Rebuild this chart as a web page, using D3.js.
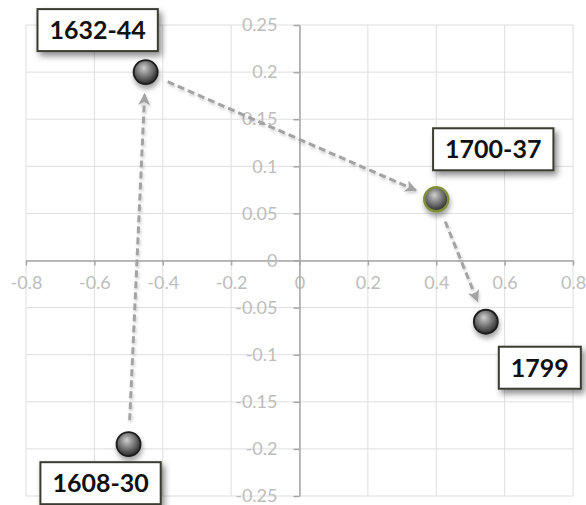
<!DOCTYPE html>
<html>
<head>
<meta charset="utf-8">
<script src="https://cdn.jsdelivr.net/npm/d3@7"></script>
<style>
  html, body { margin: 0; padding: 0; background: #fff; }
  svg { display: block; }
</style>
</head>
<body>
<svg id="chart" width="586" height="505"></svg>
<script>
// Periods and their positions on the two factor axes
const periods = ["1608-30", "1632-44", "1700-37", "1799"];
const xValues = [-0.5, -0.45, 0.4, 0.545];
const yValues = [-0.195, 0.2, 0.065, -0.065];

// Axis ticks
const xTicks = [-0.8, -0.6, -0.4, -0.2, 0, 0.2, 0.4, 0.6, 0.8];
const yTicks = [-0.25, -0.2, -0.15, -0.1, -0.05, 0, 0.05, 0.1, 0.15, 0.2, 0.25];

// Sequence of arrows (index pairs into periods)
const arrowFrom = [0, 1, 2];
const arrowTo   = [1, 2, 3];

const svg = d3.select("#chart");

const x = d3.scaleLinear().domain([-0.8, 0.8]).range([26, 573]);
const y = d3.scaleLinear().domain([-0.25, 0.25]).range([496, 25]);

const fmt = v => String(+v.toFixed(2));

// ---- defs: gradients, shadows, arrowheads ----
const defs = svg.append("defs");

const grad = defs.append("radialGradient")
  .attr("id", "sphere").attr("cx", "45%").attr("cy", "40%").attr("r", "60%")
  .attr("fx", "42%").attr("fy", "32%");
grad.append("stop").attr("offset", "0%").attr("stop-color", "#cfcfcf");
grad.append("stop").attr("offset", "50%").attr("stop-color", "#7d7d7d");
grad.append("stop").attr("offset", "100%").attr("stop-color", "#2a2a2a");

const boxShadow = defs.append("filter").attr("id", "boxShadow")
  .attr("x", "-20%").attr("y", "-20%").attr("width", "150%").attr("height", "160%");
boxShadow.append("feDropShadow").attr("dx", 3).attr("dy", 4)
  .attr("stdDeviation", 3).attr("flood-color", "#000").attr("flood-opacity", 0.45);

const dotShadow = defs.append("filter").attr("id", "dotShadow")
  .attr("x", "-50%").attr("y", "-50%").attr("width", "200%").attr("height", "200%");
dotShadow.append("feDropShadow").attr("dx", 1).attr("dy", 4)
  .attr("stdDeviation", 2.5).attr("flood-color", "#000").attr("flood-opacity", 0.35);

const lineShadow = defs.append("filter").attr("id", "lineShadow")
  .attr("x", "-20%").attr("y", "-20%").attr("width", "140%").attr("height", "140%");
lineShadow.append("feDropShadow").attr("dx", 1).attr("dy", 2)
  .attr("stdDeviation", 1.5).attr("flood-color", "#000").attr("flood-opacity", 0.2);

defs.append("marker")
  .attr("id", "head")
  .attr("viewBox", "0 0 12 12")
  .attr("refX", 11).attr("refY", 6)
  .attr("markerWidth", 13).attr("markerHeight", 12)
  .attr("markerUnits", "userSpaceOnUse")
  .attr("orient", "auto")
  .append("path")
  .attr("d", "M0,0 L12,6 L0,12 L3,6 Z")
  .attr("fill", "#a3a3a3");

// ---- grid ----
const grid = svg.append("g").attr("class", "grid");
grid.selectAll("line.v").data(xTicks).join("line")
  .attr("class", "v")
  .attr("x1", d => x(d)).attr("x2", d => x(d))
  .attr("y1", y(0.25)).attr("y2", y(-0.25))
  .attr("stroke", "#dedede").attr("stroke-width", 1);
grid.selectAll("line.h").data(yTicks).join("line")
  .attr("class", "h")
  .attr("y1", d => y(d)).attr("y2", d => y(d))
  .attr("x1", x(-0.8)).attr("x2", x(0.8))
  .attr("stroke", "#dedede").attr("stroke-width", 1);

// ---- axes crossing at the origin ----
const xAxis = d3.axisBottom(x).tickValues(xTicks).tickFormat(fmt)
  .tickSizeInner(5).tickSizeOuter(0).tickPadding(11);
const yAxis = d3.axisLeft(y).tickValues(yTicks).tickFormat(fmt)
  .tickSizeInner(6).tickSizeOuter(0).tickPadding(16);

const gx = svg.append("g").attr("transform", `translate(0,${y(0)})`).call(xAxis);
const gy = svg.append("g").attr("transform", `translate(${x(0)},0)`).call(yAxis);

[gx, gy].forEach(g => {
  g.select(".domain").attr("stroke", "#a6a6a6").attr("stroke-width", 1.5);
  g.selectAll(".tick line").attr("stroke", "#a6a6a6").attr("stroke-width", 1.5);
  g.selectAll(".tick text")
    .attr("fill", "#bdbdbd")
    .style("font-family", "Lato, 'Open Sans', sans-serif")
    .style("font-size", "18px");
});

// ---- arrows between successive periods ----
const pts = periods.map((p, i) => ({ name: p, px: x(xValues[i]), py: y(yValues[i]) }));
const startGap = 24, endGap = 22;
const arrows = arrowFrom.map((a, k) => {
  const s = pts[a], t = pts[arrowTo[k]];
  const dx = t.px - s.px, dy = t.py - s.py, len = Math.hypot(dx, dy);
  const ux = dx / len, uy = dy / len;
  return {
    x1: s.px + ux * startGap, y1: s.py + uy * startGap,
    x2: t.px - ux * endGap,   y2: t.py - uy * endGap
  };
});
svg.append("g").attr("filter", "url(#lineShadow)")
  .selectAll("line").data(arrows).join("line")
  .attr("x1", d => d.x1).attr("y1", d => d.y1)
  .attr("x2", d => d.x2).attr("y2", d => d.y2)
  .attr("stroke", "#a3a3a3").attr("stroke-width", 3)
  .attr("stroke-dasharray", "7,4")
  .attr("marker-end", "url(#head)");

// ---- spheres ----
svg.append("g").selectAll("circle").data(pts).join("circle")
  .attr("cx", d => d.px).attr("cy", d => d.py).attr("r", 12)
  .attr("fill", "url(#sphere)")
  .attr("stroke", d => d.name === "1700-37" ? "#7f8f3a" : "#1c1c1c")
  .attr("stroke-width", d => d.name === "1700-37" ? 2.5 : 1.8)
  .attr("filter", "url(#dotShadow)");

// ---- callout labels ----
const labelOffset = {
  "1608-30": [-28, 39],
  "1632-44": [-48, -42],
  "1700-37": [57, -50],
  "1799":    [54, 46]
};
const lab = svg.append("g").selectAll("g").data(pts).join("g")
  .attr("transform", d => `translate(${d.px + labelOffset[d.name][0]},${d.py + labelOffset[d.name][1]})`);

lab.append("rect")
  .attr("fill", "#fff").attr("stroke", "#3a3a33").attr("stroke-width", 2)
  .attr("filter", "url(#boxShadow)");
const texts = lab.append("text")
  .attr("text-anchor", "middle").attr("y", 9)
  .attr("fill", "#111")
  .style("font-family", "Lato, 'Open Sans', sans-serif")
  .style("font-weight", "bold")
  .style("font-size", "25px")
  .text(d => d.name);

texts.each(function () {
  const w = this.getComputedTextLength() + 24;
  d3.select(this.previousSibling)
    .attr("x", -w / 2).attr("y", -21).attr("width", w).attr("height", 42);
});
</script>
</body>
</html>
